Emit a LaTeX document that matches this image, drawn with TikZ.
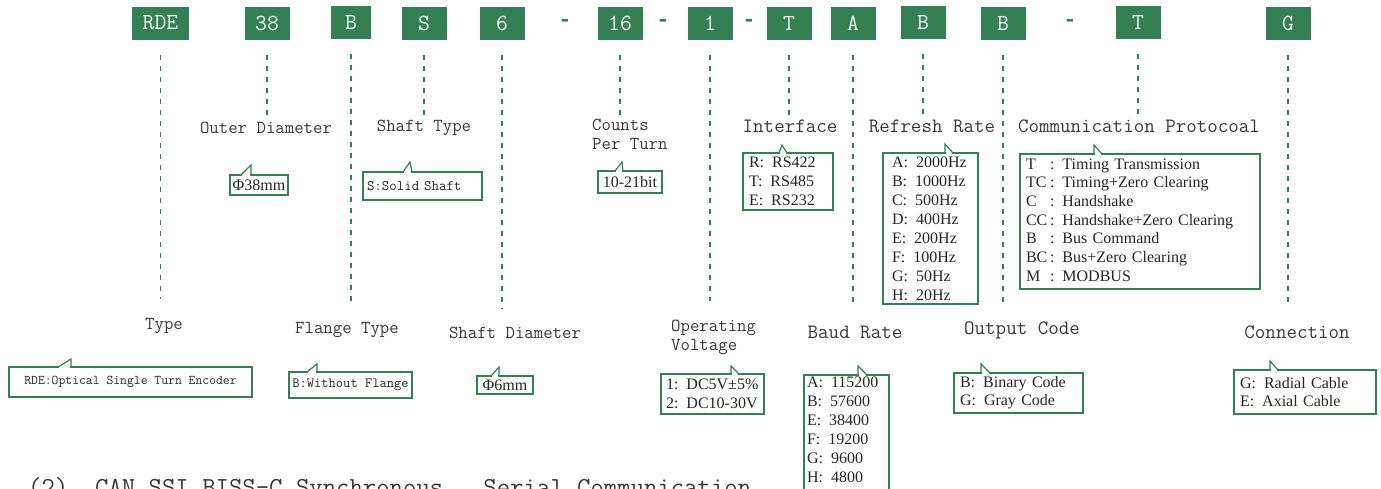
\documentclass[tikz,border=0pt]{standalone}
\usepackage{fontspec}
\setmainfont{Liberation Serif}
\newfontfamily\labfont{Latin Modern Mono}
\newfontfamily\codefont{Liberation Mono}
\usetikzlibrary{positioning,calc}
\definecolor{encgreen}{RGB}{52,128,84}
\definecolor{labgray}{RGB}{62,54,54}
\newcommand{\calltail}[5]{%
  \draw[white, line width=2.6pt] ([xshift=#2pt+1pt]#1.north west) -- ([xshift=#4pt-1pt]#1.north west);
  \draw[tail] ([xshift=#2pt]#1.north west) -- ([xshift=#3pt, yshift=#5pt]#1.north west) -- ([xshift=#4pt]#1.north west);}

\begin{document}
\begin{tikzpicture}[x=1pt, y=-1pt, inner sep=0pt]
\tikzstyle{code}=[fill=encgreen, text=white!92!encgreen, minimum width=45pt, minimum height=33pt, font=\fontsize{23}{23}\labfont]
\tikzstyle{sep}=[text=encgreen, font=\fontsize{22}{22}\codefont\bfseries]
\tikzstyle{lab}=[text=labgray, align=left, font=\fontsize{18.3}{19}\labfont]
\tikzstyle{labbig}=[lab, font=\fontsize{20.4}{19}\labfont]
\tikzstyle{callout}=[draw=encgreen, line width=1.2pt, fill=white, anchor=north west, outer sep=0pt, align=left, text=black!85, font=\fontsize{16}{19}\selectfont]
\tikzstyle{tail}=[draw=encgreen, line width=1.2pt]
\tikzstyle{guide}=[draw=encgreen, line width=1.3pt, dash pattern=on 5pt off 6pt]

\useasboundingbox (0,0) rectangle (1381,488);

% model code
\node[code, minimum width=57pt] (bRDE) at (160.5,23) {RDE};
\node[code] (b38) at (267,23) {38};
\node[code, minimum width=40pt] (bB) at (351,22.5) {B};
\node[code] (bS) at (424,23) {S};
\node[code] (b6) at (502,23) {6};
\node[sep] (dA) at (565,23) {-};
\node[code] (b16) at (620,23) {16};
\node[sep] (dB) at (663,23) {-};
\node[code] (b1) at (710,23) {1};
\node[sep] (dC) at (749,23) {-};
\node[code] (bT) at (789,23) {T};
\node[code] (bA) at (853,23) {A};
\node[code] (bBR) at (923,22.5) {B};
\node[code] (bBO) at (1003,23) {B};
\node[sep] (dD) at (1070,23) {-};
\node[code] (bTC) at (1138,22.5) {T};
\node[code] (bG) at (1288,23) {G};

% headings
\node[lab] (lOD) at (266,128) {Outer Diameter};
\node[lab] (lST) at (424,128) {Shaft Type};
\node[lab, anchor=west] (lCPT) at (592,134) {Counts\\Per Turn};
\node[labbig] (lIF) at (790,126) {Interface};
\node[labbig] (lRR) at (932,126) {Refresh Rate};
\node[labbig] (lCP) at (1139,126) {Communication Protocoal};
\node[lab] (lTy) at (164,326) {Type};
\node[lab] (lFT) at (347,330) {Flange Type};
\node[lab] (lSD) at (515,333) {Shaft Diameter};
\node[lab, anchor=west] (lOV) at (671,337) {Operating\\Voltage};
\node[labbig] (lBR) at (855,332) {Baud Rate};
\node[labbig] (lOC) at (1022,330) {Output Code};
\node[labbig] (lCn) at (1297,332) {Connection};

\foreach \b/\l in {bRDE/lTy, bB/lFT, b6/lSD, b1/lOV, bA/lBR, bBO/lOC, bG/lCn}
  \draw[guide, shorten <=15pt, shorten >=19pt] (\b.south) -- (\b.south |- \l.north);
\foreach \b/\l in {b38/lOD, bS/lST, b16/lCPT, bT/lIF, bBR/lRR, bTC/lCP}
  \draw[guide, shorten <=15pt, shorten >=4pt] (\b.south) -- (\b.south |- \l.north);

\node[lab, anchor=north west, font=\fontsize{26}{26}\labfont] (capt) at (28,477) {(2)~~CAN SSI BISS-C Synchronous~~~Serial Communication};

% options
\node[callout, minimum width=58pt, minimum height=20pt, align=center] (cOD) at (230,175) {Φ38mm};
\node[callout, text width=111pt, inner xsep=4pt, minimum height=28pt, font=\fontsize{14.5}{14}\labfont] (cST) at (363,172) {S:Solid Shaft};
\node[callout, minimum width=64pt, minimum height=22pt, align=center] (cCPT) at (598,171) {10-21bit};
\node[callout, text width=78pt, inner xsep=6pt, minimum height=57pt] (cIF) at (743,153) {R:\enspace RS422\\T:\enspace RS485\\E:\enspace RS232};
\node[callout, text width=77pt, inner xsep=9pt, minimum height=151pt] (cRR) at (883,153)
  {A:\enspace 2000Hz\\B:\enspace 1000Hz\\C:\enspace 500Hz\\D:\enspace 400Hz\\E:\enspace 200Hz\\F:\enspace 100Hz\\G:\enspace 50Hz\\H:\enspace 20Hz};
\node[callout, text width=228pt, inner xsep=6pt, minimum height=135pt, font=\fontsize{16}{18.7}\selectfont] (cCP) at (1020,154)
  {\begin{tabular}{@{}l@{\,}l@{\enspace}l@{}}
   T&:&Timing Transmission\\
   TC&:&Timing+Zero Clearing\\
   C&:&Handshake\\
   CC&:&Handshake+Zero Clearing\\
   B&:&Bus Command\\
   BC&:&Bus+Zero Clearing\\
   M&:&MODBUS
  \end{tabular}};
\node[callout, minimum width=243pt, minimum height=30pt, font=\fontsize{13.3}{14}\labfont] (cTy) at (9,367) {RDE:Optical Single Turn Encoder};
\node[callout, minimum width=123pt, minimum height=26pt, font=\fontsize{14.1}{14}\labfont] (cFT) at (289,372) {B:Without Flange};
\node[callout, minimum width=56pt, minimum height=18pt, align=center] (cSD) at (477,376) {Φ6mm};
\node[callout, text width=93pt, inner xsep=5pt, minimum height=40pt] (cOV) at (661,374) {1:\enspace DC5V±5\%\\2:\enspace DC10-30V};
\node[callout, text width=79pt, inner xsep=3pt, inner ysep=2pt] (cBR) at (804,375)
  {A:\enspace 115200\\B:\enspace 57600\\E:\enspace 38400\\F:\enspace 19200\\G:\enspace 9600\\H:\enspace 4800\rule[-25pt]{0pt}{25pt}};
\node[callout, text width=117pt, inner xsep=6pt, minimum height=40pt, font=\fontsize{16}{18}\selectfont] (cOC) at (954,373) {B:\enspace Binary Code\\G:\enspace Gray Code};
\node[callout, text width=130pt, inner xsep=6pt, minimum height=44pt, font=\fontsize{16}{18}\selectfont] (cCn) at (1234,370) {G:\enspace Radial Cable\\E:\enspace Axial Cable};

\calltail{cOD}{11}{21}{21}{10}
\calltail{cST}{40}{47}{49}{10}
\calltail{cCPT}{17}{24}{25}{9}
\calltail{cIF}{36}{39}{44}{8}
\calltail{cRR}{62}{62}{70}{9}
\calltail{cCP}{74}{74}{82}{9}
\calltail{cTy}{49}{62}{62}{8}
\calltail{cFT}{18}{28}{28}{8}
\calltail{cSD}{14}{22}{22}{9}
\calltail{cOV}{70}{70}{78}{8}
\calltail{cBR}{54}{54}{63}{9}
\calltail{cOC}{27}{27}{36}{9}
\calltail{cCn}{36}{36}{44}{9}
\end{tikzpicture}
\end{document}
